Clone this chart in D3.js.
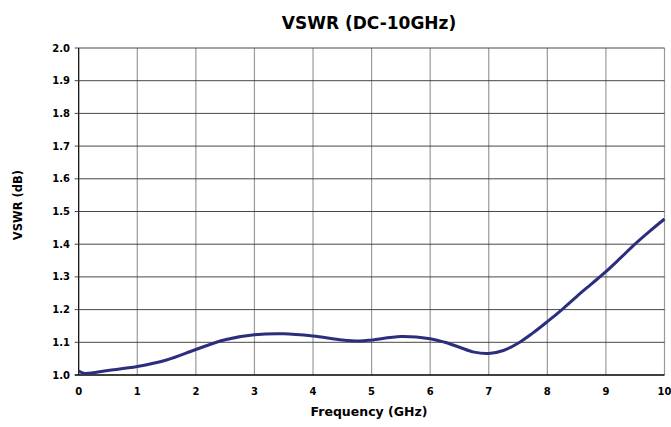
<!DOCTYPE html>
<html><head><meta charset="utf-8">
<script src="https://cdn.jsdelivr.net/npm/d3@7"></script>
<style>body{margin:0;background:#fff}svg{display:block}text{font-family:"DejaVu Sans",Verdana,sans-serif;font-weight:bold;fill:#000}</style>
</head><body>
<svg id="c" width="671" height="427"></svg>
<script>
const freq = [0, 0.1, 0.5, 1, 1.5, 2, 2.5, 3, 3.5, 4, 4.5, 4.8, 5, 5.5, 6, 6.25, 6.5, 6.75, 7, 7.25, 7.5, 7.75, 8, 8.25, 8.5, 8.75, 9, 9.25, 9.5, 9.75, 10];
const vswr = [1.012, 1.005, 1.014, 1.026, 1.046, 1.078, 1.108, 1.123, 1.126, 1.119, 1.107, 1.104, 1.107, 1.118, 1.111, 1.100, 1.085, 1.070, 1.066, 1.075, 1.097, 1.128, 1.163, 1.200, 1.240, 1.278, 1.316, 1.358, 1.401, 1.440, 1.477];
const xTicks = [0,1,2,3,4,5,6,7,8,9,10];
const yTicks = [1.0,1.1,1.2,1.3,1.4,1.5,1.6,1.7,1.8,1.9,2.0];

const svg = d3.select("#c");
const x = d3.scaleLinear().domain([0,10]).range([78.7, 664.5]);
const y = d3.scaleLinear().domain([1.0,2.0]).range([375, 48]);

// vertical grid
svg.append("g").selectAll("line").data(xTicks).join("line")
  .attr("x1", d=>x(d)).attr("x2", d=>x(d)).attr("y1", y(2.0)).attr("y2", y(1.0))
  .attr("stroke", d=> d===0 ? "#000" : "#9a9a9a").attr("stroke-width", 1.2);
// horizontal grid
svg.append("g").selectAll("line").data(yTicks).join("line")
  .attr("x1", x(0)-4).attr("x2", x(10)).attr("y1", d=>y(d)).attr("y2", d=>y(d))
  .attr("stroke", d=> d===1.0 ? "#000" : "#333").attr("stroke-width", d=>d===1.0?1.3:0.9);

// y tick labels
svg.append("g").selectAll("text").data(yTicks).join("text")
  .attr("x", 70).attr("y", d=>y(d)).attr("dy","0.35em").attr("text-anchor","end")
  .attr("font-size", 10).text(d=>d3.format(".1f")(d));
// x tick labels
svg.append("g").selectAll("text").data(xTicks).join("text")
  .attr("x", d=>x(d)).attr("y", 395).attr("text-anchor","middle")
  .attr("font-size", 10).text(d=>d);

// line
svg.append("path").datum(freq.map((f,i)=>[f,vswr[i]]))
  .attr("fill","none").attr("stroke","#2b2e7c").attr("stroke-width",3)
  .attr("stroke-linejoin","round")
  .attr("d", d3.line().x(d=>x(d[0])).y(d=>y(d[1])).curve(d3.curveCatmullRom));

// titles
svg.append("text").attr("x", 369).attr("y", 29).attr("text-anchor","middle").attr("font-size", 17).text("VSWR (DC-10GHz)");
svg.append("text").attr("x", 369).attr("y", 416).attr("text-anchor","middle").attr("font-size", 12.5).text("Frequency (GHz)");
svg.append("text").attr("transform","translate(22,205) rotate(-90)").attr("text-anchor","middle").attr("font-size", 11.5).text("VSWR (dB)");
</script>
</body></html>
